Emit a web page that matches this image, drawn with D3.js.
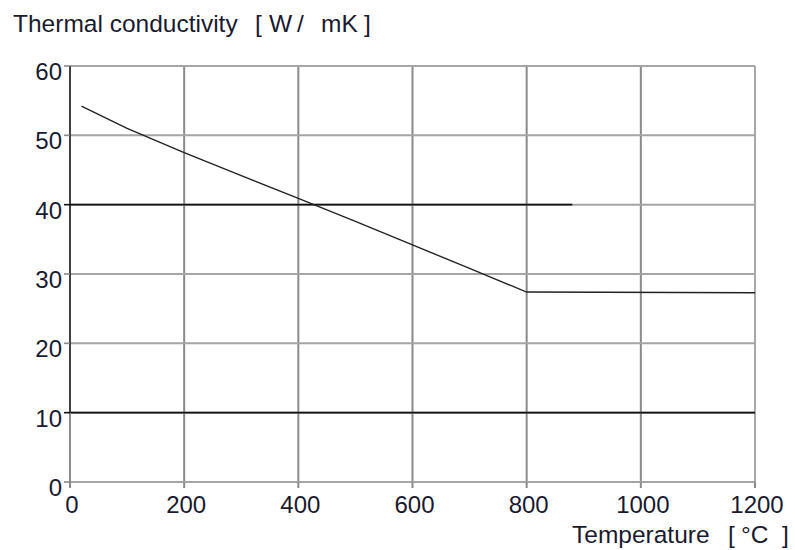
<!DOCTYPE html>
<html>
<head>
<meta charset="utf-8">
<script src="https://cdn.jsdelivr.net/npm/d3@7"></script>
<style>
  html, body { margin: 0; padding: 0; background: #fff; }
  text { font-family: "Liberation Sans", Arial, sans-serif; fill: #1a1a2e; }
</style>
</head>
<body>
<script>
// Data
const temperatures = [20, 100, 200, 300, 400, 500, 600, 700, 800, 1200];
const conductivity = [54.2, 51.0, 47.5, 44.2, 40.9, 37.6, 34.2, 30.8, 27.4, 27.3];
const xTicks = [0, 200, 400, 600, 800, 1000, 1200];
const yTicks = [0, 10, 20, 30, 40, 50, 60];
const darkGridY = [10, 40];

const W = 795, H = 550;
const svg = d3.select("body").append("svg").attr("width", W).attr("height", H);

const x = d3.scaleLinear().domain([0, 1200]).range([70, 755]);
const y = d3.scaleLinear().domain([0, 60]).range([482, 66]);

// Vertical grid lines
svg.append("g").selectAll("line").data(xTicks.filter(d => d > 0)).join("line")
  .attr("x1", d => x(d)).attr("x2", d => x(d))
  .attr("y1", y(60)).attr("y2", y(0))
  .attr("stroke", d => d === 1200 ? "#a8a8a8" : "#8a8a8a")
  .attr("stroke-width", 2);

// Horizontal grid lines (gray)
svg.append("g").selectAll("line").data(yTicks).join("line")
  .attr("x1", x(0)).attr("x2", x(1200))
  .attr("y1", d => y(d)).attr("y2", d => y(d))
  .attr("stroke", "#a5a5a5")
  .attr("stroke-width", 2);

// Dark horizontal grid lines
svg.append("g").selectAll("line").data(darkGridY).join("line")
  .attr("x1", x(0)).attr("x2", d => d === 40 ? x(880) : x(1200))
  .attr("y1", d => y(d)).attr("y2", d => y(d))
  .attr("stroke", "#111")
  .attr("stroke-width", 1.6);

// Left axis line
svg.append("line")
  .attr("x1", x(0)).attr("x2", x(0)).attr("y1", y(60)).attr("y2", y(10))
  .attr("stroke", "#111").attr("stroke-width", 1.6);
svg.append("line")
  .attr("x1", x(0)).attr("x2", x(0)).attr("y1", y(10)).attr("y2", y(0) + 6)
  .attr("stroke", "#8a8a8a").attr("stroke-width", 2);

// Y ticks
svg.append("g").selectAll("line").data(yTicks).join("line")
  .attr("x1", x(0) - 6).attr("x2", x(0))
  .attr("y1", d => y(d)).attr("y2", d => y(d))
  .attr("stroke", d => darkGridY.includes(d) ? "#111" : "#8a8a8a")
  .attr("stroke-width", 1.6);

// X ticks
svg.append("g").selectAll("line").data(xTicks).join("line")
  .attr("x1", d => x(d)).attr("x2", d => x(d))
  .attr("y1", y(0)).attr("y2", y(0) + 6)
  .attr("stroke", "#8a8a8a")
  .attr("stroke-width", 2);

// Y labels
svg.append("g").selectAll("text").data(yTicks).join("text")
  .attr("x", 62).attr("y", d => y(d) + 14)
  .attr("text-anchor", "end")
  .attr("font-size", 24)
  .text(d => d);

// X labels
svg.append("g").selectAll("text").data(xTicks).join("text")
  .attr("x", d => x(d) + 2).attr("y", 513)
  .attr("text-anchor", "middle")
  .attr("font-size", 24)
  .text(d => d);

// Data line
const line = d3.line().x(d => x(d[0])).y(d => y(d[1]));
svg.append("path")
  .datum(temperatures.map((t, i) => [t, conductivity[i]]))
  .attr("d", line)
  .attr("fill", "none")
  .attr("stroke", "#222")
  .attr("stroke-width", 1.4);

// Title (y axis)
const titleParts = [["Thermal conductivity", 13], ["[", 255], ["W", 269], ["/", 297], ["mK", 321], ["]", 364]];
svg.append("g").selectAll("text").data(titleParts).join("text")
  .attr("x", d => d[1]).attr("y", 32)
  .attr("font-size", 24.5)
  .text(d => d[0]);

// X-axis title
const xTitleParts = [["Temperature", 572], ["[", 728], ["°C", 741], ["]", 782]];
svg.append("g").selectAll("text").data(xTitleParts).join("text")
  .attr("x", d => d[1]).attr("y", 543)
  .attr("font-size", 24.5)
  .text(d => d[0]);
</script>
</body>
</html>
